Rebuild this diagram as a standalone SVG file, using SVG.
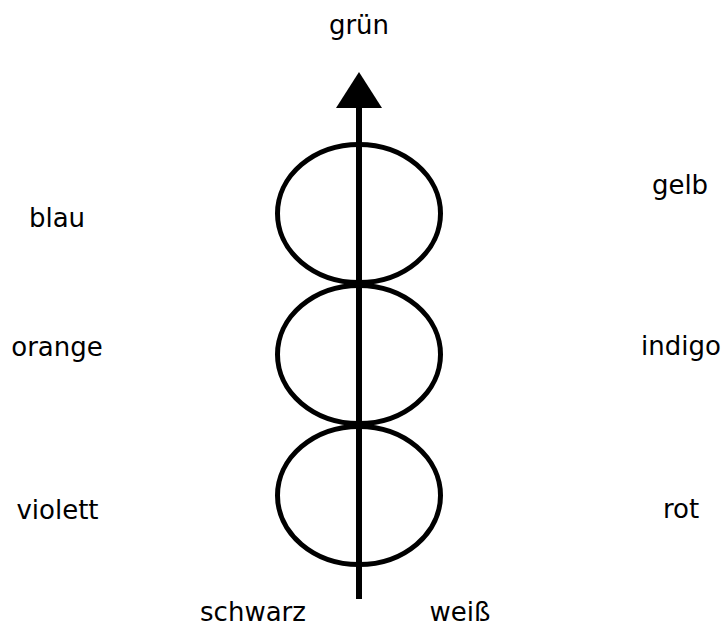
<svg xmlns="http://www.w3.org/2000/svg" width="723" height="628" viewBox="0 0 723 628">
<style>
text{font-family:"DejaVu Sans","Liberation Sans",sans-serif;font-size:26px;fill:#000;text-anchor:middle}
.ring{fill:none;stroke:#000;stroke-width:5}
</style>
<rect width="723" height="628" fill="#fff"/>
<g id="rings">
<ellipse class="ring" cx="359" cy="213.5" rx="81.5" ry="69"/>
<ellipse class="ring" cx="359" cy="354.5" rx="81.5" ry="69"/>
<ellipse class="ring" cx="359" cy="495.5" rx="81.5" ry="69"/>
</g>
<g id="connectors">
<line x1="359" y1="599" x2="359" y2="104" stroke="#000" stroke-width="6"/>
<polygon points="359,72 336,108 382,108" fill="#000"/>
</g>
<g id="labels">
<text x="359" y="34">grün</text>
<text x="57" y="227">blau</text>
<text x="680" y="194">gelb</text>
<text x="57" y="356">orange</text>
<text x="681" y="355">indigo</text>
<text x="57.5" y="519">violett</text>
<text x="681" y="518">rot</text>
<text x="253" y="621">schwarz</text>
<text x="460" y="621">weiß</text>
</g>
</svg>
